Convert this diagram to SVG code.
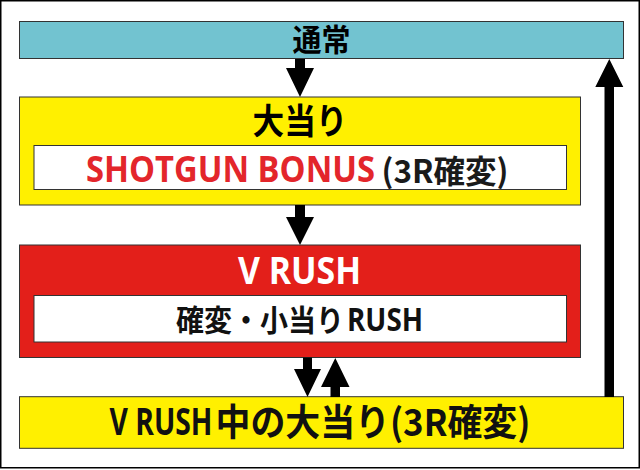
<svg xmlns="http://www.w3.org/2000/svg" width="640" height="470" viewBox="0 0 640 470">
  <style>
    .box { stroke: #333333; stroke-width: 1; }
    .teal { fill: #72c3d0; }
    .yellow { fill: #fff000; }
    .red { fill: #e31f1a; }
    .white { fill: #ffffff; }
    .arrow { fill: #000000; }
    .jp { font-family: "Noto Sans CJK JP", sans-serif; font-weight: 700; }
    .lat { font-family: "Open Sans", "Noto Sans CJK JP", sans-serif; font-weight: 700; }
  </style>
  <rect x="0.75" y="0.75" width="638.5" height="467" fill="#ffffff" stroke="#000000" stroke-width="1.5"/>

  <g id="node-tsujo">
    <rect class="box teal" x="19.5" y="21.5" width="604" height="37"/>
    <text class="jp" transform="translate(292.5 51) scale(0.935 1)" x="0" y="0" font-size="31" textLength="62" lengthAdjust="spacingAndGlyphs" fill="#000">通常</text>
  </g>

  <g id="node-ooatari">
    <rect class="box yellow" x="19.5" y="97" width="561" height="108"/>
    <text class="jp" transform="translate(252.5 134) scale(0.905 1)" x="0" y="0" font-size="35" textLength="105" lengthAdjust="spacingAndGlyphs" fill="#000">大当り</text>
    <rect class="box white" x="34" y="145.5" width="532.5" height="44"/>
    <text class="lat" transform="translate(86 182) scale(0.93 1)" x="0" y="0" font-size="36" textLength="310.8" lengthAdjust="spacingAndGlyphs" fill="#e3262b">SHOTGUN BONUS</text>
    <text class="jp" x="381.5" y="183" font-size="32" textLength="127" lengthAdjust="spacingAndGlyphs" fill="#1a1a1a">(3R確変)</text>
  </g>

  <g id="node-vrush">
    <rect class="box red" x="19.5" y="245" width="561" height="112.5"/>
    <text class="lat" transform="translate(238 283.7) scale(0.925 1)" x="0" y="0" font-size="37" textLength="133" lengthAdjust="spacingAndGlyphs" fill="#ffffff">V RUSH</text>
    <rect class="box white" x="34" y="295.5" width="532.5" height="46.5"/>
    <text class="jp" transform="translate(176 331) scale(0.933 1)" x="0" y="0" font-size="30" textLength="180" lengthAdjust="spacingAndGlyphs" fill="#111">確変・小当り</text>
    <text class="lat" transform="translate(347 331) scale(0.86 1)" x="0" y="0" font-size="33" textLength="88.4" lengthAdjust="spacingAndGlyphs" fill="#111">RUSH</text>
  </g>

  <g id="node-vrush-ooatari">
    <rect class="box yellow" x="19.5" y="396.7" width="604" height="51.6"/>
    <text class="lat" transform="translate(109.5 435) scale(0.75 1)" x="0" y="0" font-size="38" textLength="137.3" lengthAdjust="spacingAndGlyphs" fill="#111">V RUSH</text>
    <text class="jp" transform="translate(215.5 436) scale(0.963 1)" x="0" y="0" font-size="37" textLength="327" lengthAdjust="spacingAndGlyphs" fill="#111">中の大当り(3R確変)</text>
  </g>

  <g id="connectors">
    <polygon class="arrow" points="295,59 305,59 305,68 314,68 300,97 286,68 295,68"/>
    <polygon class="arrow" points="295,205 305,205 305,217 314,217 300,245 286,217 295,217"/>
    <polygon class="arrow" points="303,357.5 312,357.5 312,369 321,369 307.5,397 294,369 303,369"/>
    <polygon class="arrow" points="330.5,397 340,397 340,387 349.5,387 335.3,358 321,387 330.5,387"/>
    <polygon class="arrow" points="604.5,397 614,397 614,87 623.3,87 609.3,59 595.3,87 604.5,87"/>
  </g>
</svg>
